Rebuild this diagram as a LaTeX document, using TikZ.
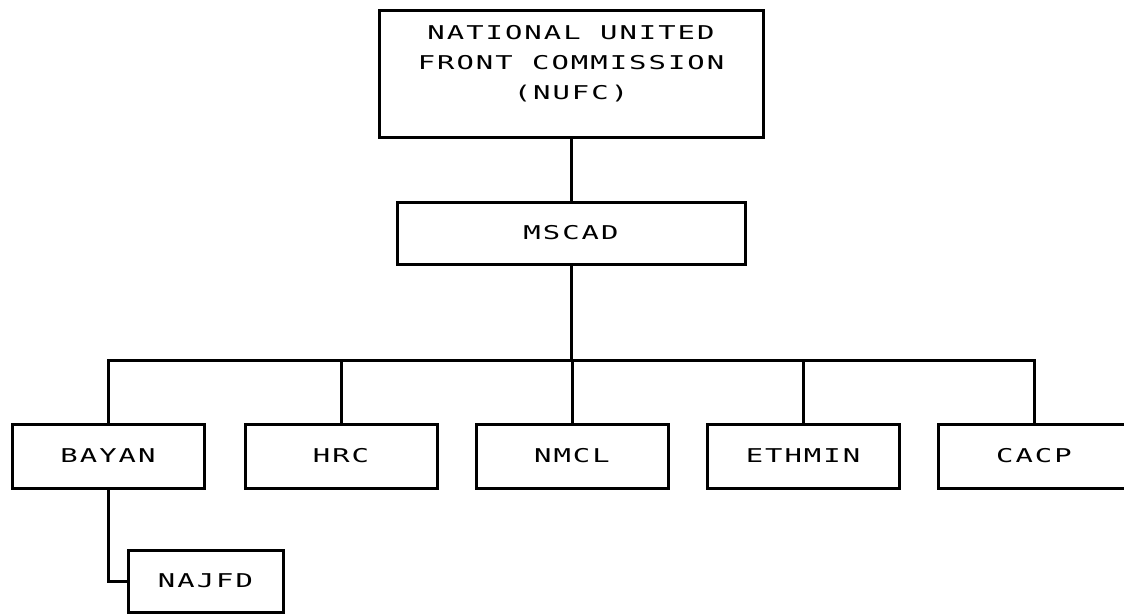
\documentclass[tikz,border=0pt]{standalone}
\usepackage{fontspec}
\usepackage{graphicx}
\newfontfamily\plotfont[LetterSpace=7]{DejaVu Sans Mono}
\newcommand{\wide}[1]{\scalebox{1.52}[1]{#1}}
\begin{document}
\begin{tikzpicture}[x=1pt,y=-1pt,
  lbl/.style={font=\plotfont\fontsize{19}{30}\selectfont},
  box/.style={lbl,draw=black,line width=3pt,rectangle,inner sep=0pt,align=center},
  unit/.style={box,minimum width=192pt,minimum height=64pt},
  wire/.style={draw=black,line width=3pt}]
\useasboundingbox (0,0) rectangle (1124,614);
\node[box,minimum width=384pt,minimum height=127pt] (nufc) at (571,73.5) {};
\node[lbl,align=center,inner sep=0pt] (nufct) at (571,64) {\wide{NATIONAL UNITED}\\\wide{FRONT COMMISSION}\\\wide{(NUFC)}};
\node[box,minimum width=348pt,minimum height=62pt] (mscad) at (571,233) {\wide{MSCAD}};
\coordinate (bus) at (571,360);
\node[unit] (bayan) at (108,456) {\wide{BAYAN}};
\node[unit] (hrc) at (341,456) {\wide{HRC}};
\node[unit] (nmcl) at (572,456) {\wide{NMCL}};
\node[unit] (ethmin) at (803,456) {\wide{ETHMIN}};
\node[unit] (cacp) at (1034,456) {\wide{CACP}};
\node[box,minimum width=155pt,minimum height=62pt] (najfd) at (205.5,581) {\wide{NAJFD}};
\draw[wire] (nufc.south) -- (mscad.north);
\draw[wire] (mscad.south) -- (bus);
\draw[wire] (bayan.north) |- (bus) -| (cacp.north);
\draw[wire] (hrc.north) -- (hrc.north |- bus);
\draw[wire] (nmcl.north) -- (nmcl.north |- bus);
\draw[wire] (ethmin.north) -- (ethmin.north |- bus);
\draw[wire] (bayan.south) |- (najfd.west);
\end{tikzpicture}
\end{document}
